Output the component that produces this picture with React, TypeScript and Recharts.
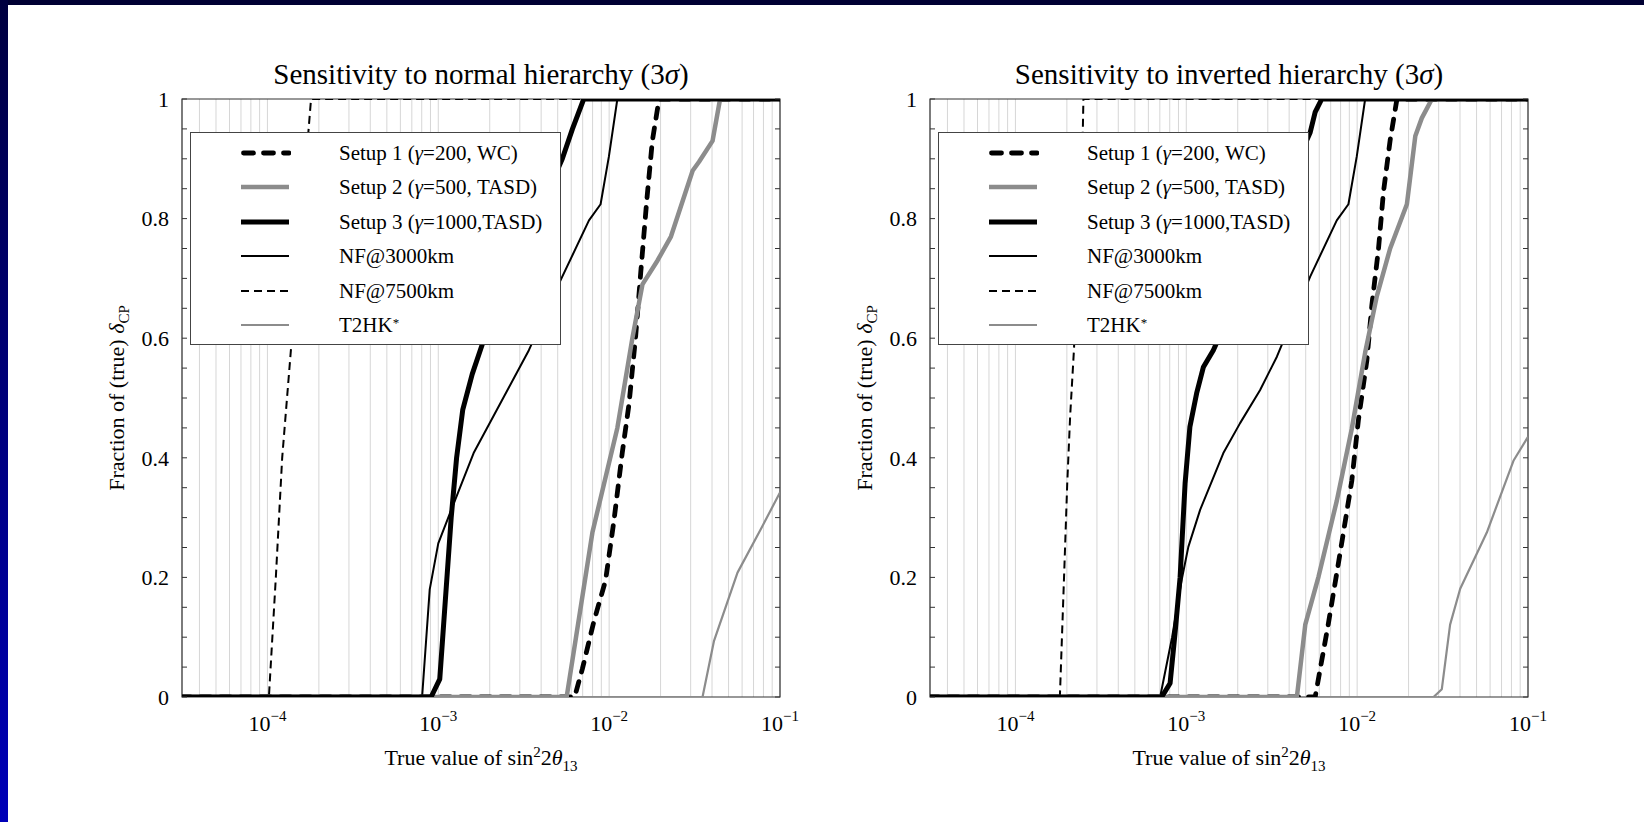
import React from 'react';
import { LineChart, Line, XAxis, YAxis, CartesianGrid, ReferenceArea, Legend } from 'recharts';

const FONT = '"Liberation Serif", "Times New Roman", Times, serif';

// x axis: sin^2 2theta13, log scale
const X_MIN = Math.pow(10, -4.5);
const X_MAX = 0.1;
const xDecades = [1e-4, 1e-3, 1e-2, 1e-1];
const xDecadeExponents = ['\u22124', '\u22123', '\u22122', '\u22121'];
const xMantissas = [1, 2, 3, 4, 5, 6, 7, 8, 9];
const xTicks = [1e-5, 1e-4, 1e-3, 1e-2]
  .flatMap((d) => xMantissas.map((m) => m * d))
  .filter((v) => v >= X_MIN)
  .concat([0.1]);

// y axis: fraction of true delta_CP
const yTicks = Array.from({ length: 21 }, (_, i) => i / 20);
const yLabelTicks = [0, 0.2, 0.4, 0.6, 0.8, 1];
const yLabels = ['0', '0.2', '0.4', '0.6', '0.8', '1'];

const legendKeys = ['setup1', 'setup2', 'setup3', 'nf3000', 'nf7500', 't2hk'];
const legendLabels = [
  'Setup 1 (\u03b3=200, WC)',
  'Setup 2 (\u03b3=500, TASD)',
  'Setup 3 (\u03b3=1000,TASD)',
  'NF@3000km',
  'NF@7500km',
  'T2HK*',
];
const drawOrder = ['t2hk', 'nf7500', 'nf3000', 'setup1', 'setup2', 'setup3'];

// normal hierarchy: [sin^2 2theta13, fraction]
const nhSetup1 = [[3.1e-5, 0], [6.28e-3, 0], [6.97e-3, 0.047], [8.15e-3, 0.127], [9.53e-3, 0.195], [1.067e-2, 0.295], [1.194e-2, 0.409], [1.306e-2, 0.489], [1.429e-2, 0.603], [1.531e-2, 0.71], [1.66e-2, 0.83], [1.79e-2, 0.93], [1.96e-2, 1], [0.1, 1]];
const nhSetup2 = [[3.1e-5, 0], [5.64e-3, 0], [7.98e-3, 0.275], [1.117e-2, 0.45], [1.368e-2, 0.6], [1.567e-2, 0.69], [1.92e-2, 0.73], [2.3e-2, 0.77], [3.08e-2, 0.88], [3.36e-2, 0.895], [4.03e-2, 0.93], [4.46e-2, 1], [0.1, 1]];
const nhSetup3 = [[3.1e-5, 0], [9.08e-4, 0], [1.02e-3, 0.03], [1.19e-3, 0.3], [1.28e-3, 0.4], [1.39e-3, 0.48], [1.58e-3, 0.54], [1.86e-3, 0.6], [5.32e-3, 0.9], [6.1e-3, 0.95], [7.1e-3, 1], [0.1, 1]];
const nhNf3000 = [[3.1e-5, 0], [8.04e-4, 0], [8.91e-4, 0.18], [1.0e-3, 0.257], [1.21e-3, 0.318], [1.61e-3, 0.408], [3.39e-3, 0.58], [5.2e-3, 0.697], [7.62e-3, 0.797], [8.91e-3, 0.824], [9.97e-3, 0.904], [1.117e-2, 1], [0.1, 1]];
const nhNf7500 = [[3.1e-5, 0], [1.02e-4, 0], [1.12e-4, 0.2], [1.22e-4, 0.4], [1.39e-4, 0.6], [1.58e-4, 0.8], [1.8e-4, 1], [0.1, 1]];
const nhT2hk = [[3.1e-5, 0], [3.52e-2, 0], [4.11e-2, 0.094], [5.64e-2, 0.208], [7.73e-2, 0.281], [0.1, 0.342]];

// inverted hierarchy
const ihSetup1 = [[3.1e-5, 0], [5.68e-3, 0], [6.76e-3, 0.12], [7.94e-3, 0.24], [9.31e-3, 0.362], [1.016e-2, 0.462], [1.14e-2, 0.563], [1.22e-2, 0.656], [1.334e-2, 0.75], [1.425e-2, 0.844], [1.56e-2, 0.931], [1.71e-2, 1], [0.1, 1]];
const ihSetup2 = [[3.1e-5, 0], [4.44e-3, 0], [4.97e-3, 0.121], [5.94e-3, 0.201], [7.6e-3, 0.328], [9.31e-3, 0.449], [1.114e-2, 0.576], [1.303e-2, 0.67], [1.56e-2, 0.75], [1.955e-2, 0.824], [2.19e-2, 0.938], [2.39e-2, 0.968], [2.74e-2, 1], [0.1, 1]];
const ihSetup3 = [[3.1e-5, 0], [7.18e-4, 0], [8.04e-4, 0.023], [8.59e-4, 0.106], [9.2e-4, 0.2], [9.84e-4, 0.357], [1.05e-3, 0.452], [1.15e-3, 0.508], [1.26e-3, 0.552], [1.44e-3, 0.58], [5.31e-3, 0.944], [5.68e-3, 0.978], [6.21e-3, 1], [0.1, 1]];
const ihNf3000 = [[3.1e-5, 0], [7.03e-4, 0], [8.26e-4, 0.1], [9.4e-4, 0.196], [1.028e-3, 0.251], [1.205e-3, 0.313], [1.648e-3, 0.408], [2.065e-3, 0.458], [2.7e-3, 0.513], [3.39e-3, 0.569], [5.31e-3, 0.703], [7.6e-3, 0.797], [8.89e-3, 0.824], [9.95e-3, 0.904], [1.114e-2, 1], [0.1, 1]];
const ihNf7500 = [[3.1e-5, 0], [1.82e-4, 0], [1.89e-4, 0.134], [1.95e-4, 0.246], [2.01e-4, 0.357], [2.09e-4, 0.469], [2.2e-4, 0.58], [2.48e-4, 0.948], [2.5e-4, 1], [0.1, 1]];
const ihT2hk = [[3.1e-5, 0], [2.8e-2, 0], [3.13e-2, 0.013], [3.5e-2, 0.121], [4.01e-2, 0.181], [5.74e-2, 0.275], [8.22e-2, 0.395], [0.1, 0.435]];

const normalSeries: Record<string, number[][]> = {
  setup1: nhSetup1, setup2: nhSetup2, setup3: nhSetup3, nf3000: nhNf3000, nf7500: nhNf7500, t2hk: nhT2hk,
};
const invertedSeries: Record<string, number[][]> = {
  setup1: ihSetup1, setup2: ihSetup2, setup3: ihSetup3, nf3000: ihNf3000, nf7500: ihNf7500, t2hk: ihT2hk,
};

const GRAY = '#8c8c8c';
const lineStyles: Record<string, { stroke: string; width: number; dash?: string; cap?: 'round' | 'butt' }> = {
  setup1: { stroke: '#000', width: 4.8, dash: '10 10', cap: 'round' },
  setup2: { stroke: GRAY, width: 4.5 },
  setup3: { stroke: '#000', width: 5 },
  nf3000: { stroke: '#000', width: 2 },
  nf7500: { stroke: '#000', width: 2, dash: '8 5' },
  t2hk: { stroke: GRAY, width: 2.2 },
};

// layout
const CW = 820;
const CH = 822;
const PLOT_L = 182;
const PLOT_T = 99;
const PW = 598;
const PH = 598;
const Y_AXIS_W = 60;
const X_AXIS_H = 60;

function formatLabel(label: string) {
  const star = label.endsWith('*');
  const body = star ? label.slice(0, -1) : label;
  const parts = body.split('\u03b3');
  return (
    <>
      {parts.map((p, i) => (
        <React.Fragment key={i}>
          {i > 0 && <i>{'\u03b3'}</i>}
          {p}
        </React.Fragment>
      ))}
      {star && <sup style={{ fontSize: 13, verticalAlign: 'top', position: 'relative', top: -2 }}>*</sup>}
    </>
  );
}

function XTick(props: any) {
  const { x, y, payload } = props;
  const i = xDecades.findIndex((d) => Math.abs(d - payload.value) / d < 1e-6);
  if (i < 0) return <g />;
  return (
    <text x={x} y={y + 34} textAnchor="middle" fontFamily={FONT} fontSize={22} fill="#000">
      <tspan>10</tspan>
      <tspan dy={-10} fontSize={15}>{xDecadeExponents[i]}</tspan>
    </text>
  );
}

function YTick(props: any) {
  const { x, y, payload } = props;
  const i = yLabelTicks.findIndex((v) => Math.abs(v - payload.value) < 1e-6);
  return (
    <g>
      <line x1={x} x2={x + 5} y1={y} y2={y} stroke="#333" strokeWidth={1} />
      <line x1={x + PW - 5} x2={x + PW} y1={y} y2={y} stroke="#333" strokeWidth={1} />
      {i >= 0 && (
        <text x={x - 13} y={y} dy="0.35em" textAnchor="end" fontFamily={FONT} fontSize={22} fill="#000">
          {yLabels[i]}
        </text>
      )}
    </g>
  );
}

function LegendBox() {
  return (
    <div style={{ paddingTop: 3 }}>
      {legendKeys.map((key, i) => {
        const s = lineStyles[key];
        return (
          <div key={key} style={{ position: 'relative', height: 34.4 }}>
            <svg width={52} height={10} style={{ position: 'absolute', left: 48, top: 12 }}>
              <line
                x1={s.cap === 'round' ? 4.5 : 2}
                x2={50}
                y1={5}
                y2={5}
                stroke={s.stroke}
                strokeWidth={s.width}
                strokeDasharray={s.dash}
                strokeLinecap={s.cap || 'butt'}
              />
            </svg>
            <span
              style={{
                position: 'absolute', left: 148, top: 0, lineHeight: '34.4px', fontSize: 21,
                fontFamily: FONT, whiteSpace: 'nowrap', color: '#000',
              }}
            >
              {formatLabel(legendLabels[i])}
            </span>
          </div>
        );
      })}
    </div>
  );
}

function Panel({ left, title, series }: { left: number; title: React.ReactNode; series: Record<string, number[][]> }) {
  return (
    <div style={{ position: 'absolute', left, top: 0, width: CW, height: CH }}>
      <LineChart
        width={CW}
        height={CH}
        margin={{ top: PLOT_T, right: CW - PLOT_L - PW, bottom: CH - PLOT_T - PH - X_AXIS_H, left: PLOT_L - Y_AXIS_W }}
      >
        <CartesianGrid horizontal={false} stroke="#d6d6d6" strokeWidth={1} />
        <XAxis
          type="number"
          dataKey="x"
          scale="log"
          domain={[X_MIN, X_MAX]}
          allowDataOverflow
          ticks={xTicks}
          interval={0}
          tick={XTick}
          tickLine={false}
          axisLine={false}
          tickSize={0}
          tickMargin={0}
          height={X_AXIS_H}
        />
        <YAxis
          type="number"
          domain={[0, 1]}
          allowDataOverflow
          ticks={yTicks}
          interval={0}
          tick={YTick}
          tickLine={false}
          axisLine={false}
          tickSize={0}
          tickMargin={0}
          width={Y_AXIS_W}
        />
        <ReferenceArea x1={X_MIN} x2={X_MAX} y1={0} y2={1} fill="none" stroke="#333" strokeWidth={1.2} ifOverflow="visible" />
        {drawOrder.map((key) => {
          const s = lineStyles[key];
          return (
            <Line
              key={key}
              data={series[key].map(([x, y]) => ({ x, y }))}
              dataKey="y"
              type="linear"
              stroke={s.stroke}
              strokeWidth={s.width}
              strokeDasharray={s.dash}
              strokeLinecap={s.cap || 'butt'}
              strokeLinejoin="round"
              dot={false}
              activeDot={false}
              isAnimationActive={false}
            />
          );
        })}
        <Legend
          layout="vertical"
          align="center"
          verticalAlign="middle"
          content={LegendBox}
          wrapperStyle={{
            left: 190, top: 132, width: 371, height: 213, border: '1px solid #444',
            background: '#fff', boxSizing: 'border-box', margin: 0,
          }}
        />
      </LineChart>
      <div
        style={{
          position: 'absolute', left: PLOT_L + PW / 2, top: 60, transform: 'translateX(-50%)',
          fontFamily: FONT, fontSize: 29, lineHeight: '29px', whiteSpace: 'nowrap', color: '#000',
        }}
      >
        {title}
      </div>
      <div
        style={{
          position: 'absolute', left: PLOT_L + PW / 2, top: 741, transform: 'translateX(-50%)',
          fontFamily: FONT, fontSize: 22, lineHeight: '22px', whiteSpace: 'nowrap', color: '#000',
        }}
      >
        True value of sin<sup style={{ fontSize: 15 }}>2</sup>2<i>{'\u03b8'}</i>
        <sub style={{ fontSize: 15 }}>13</sub>
      </div>
      <div
        style={{
          position: 'absolute', left: 117 - 150, top: PLOT_T + PH / 2 - 15, width: 300, height: 30,
          lineHeight: '30px', textAlign: 'center', transform: 'rotate(-90deg)',
          fontFamily: FONT, fontSize: 22, whiteSpace: 'nowrap', color: '#000',
        }}
      >
        Fraction of (true) <i>{'\u03b4'}</i>
        <sub style={{ fontSize: 15 }}>CP</sub>
      </div>
    </div>
  );
}

export default function App() {
  return (
    <div style={{ position: 'fixed', left: 0, top: 0, width: 1644, height: 822, background: '#fff', overflow: 'hidden' }}>
      <div style={{ position: 'absolute', left: 0, top: 0, width: 1644, height: 5, background: '#000033' }} />
      <div
        style={{
          position: 'absolute', left: 0, top: 0, width: 8, height: 822,
          background: 'linear-gradient(to bottom, #000040, #0000b8)',
        }}
      />
      <Panel left={0} title={<>Sensitivity to normal hierarchy (3<i>{'\u03c3'}</i>)</>} series={normalSeries} />
      <Panel left={748} title={<>Sensitivity to inverted hierarchy (3<i>{'\u03c3'}</i>)</>} series={invertedSeries} />
    </div>
  );
}
